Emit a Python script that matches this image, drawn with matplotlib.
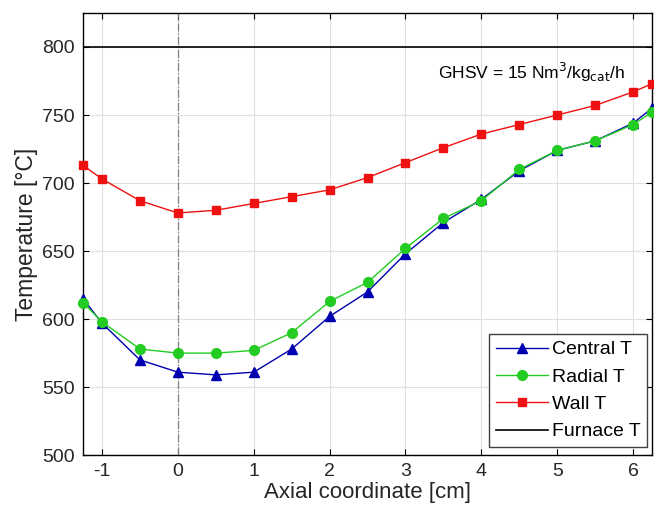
import matplotlib
matplotlib.use("Agg")
import matplotlib.pyplot as plt

plt.rcParams["font.family"] = ["Liberation Sans", "DejaVu Sans"]
plt.rcParams["axes.unicode_minus"] = False

# axial positions [cm]
x_cm = [-1.25, -1, -0.5, 0, 0.5, 1, 1.5, 2, 2.5, 3, 3.5, 4, 4.5, 5, 5.5, 6, 6.25]
central_t = [615, 597, 570, 561, 559, 561, 578, 602, 620, 648, 671, 688, 709, 724, 731, 744, 755]
radial_t = [612, 598, 578, 575, 575, 577, 590, 613, 627, 652, 674, 687, 710, 724, 731, 743, 752]
wall_t = [713, 703, 687, 678, 680, 685, 690, 695, 704, 715, 726, 736, 743, 750, 757, 767, 773]
furnace_t = 800

x_ticks = [-1, 0, 1, 2, 3, 4, 5, 6]
y_ticks = [500, 550, 600, 650, 700, 750, 800]

fig = plt.figure(figsize=(6.54, 5.19), dpi=100)
ax = fig.add_axes([0.127, 0.123, 0.870, 0.852])

ax.axvline(0, color="#808080", lw=0.9, ls="-.", zorder=1)
ax.plot(x_cm, central_t, color="#0000b0", marker="^", ms=7, lw=1.0,
        label="Central T", zorder=3, clip_on=False)
ax.plot(x_cm, radial_t, color="#22cc22", marker="o", ms=7, lw=1.0,
        label="Radial T", zorder=3, clip_on=False)
ax.plot(x_cm, wall_t, color="#ee1111", marker="s", ms=6, lw=1.0,
        label="Wall T", zorder=3, clip_on=False)
ax.axhline(furnace_t, color="black", lw=1.2, label="Furnace T", zorder=2)

ax.text(4.66, 781, r"GHSV = 15 Nm$^3$/kg$_{\mathrm{cat}}$/h", fontsize=12.5,
        ha="center", va="center")

ax.set_xlim(-1.25, 6.25)
ax.set_ylim(500, 825)
ax.set_xticks(x_ticks)
ax.set_yticks(y_ticks)
ax.tick_params(direction="in", top=True, right=True, labelsize=14, length=4, pad=6,
               labelcolor="#262626")
ax.grid(True, color="#e0e0e0", lw=0.8)
ax.set_axisbelow(True)
for s in ax.spines.values():
    s.set_linewidth(1.0)

ax.set_xlabel("Axial coordinate [cm]", fontsize=16, labelpad=1, color="#262626")
ax.set_ylabel("Temperature [\u00b0C]", fontsize=16.5, labelpad=3, color="#262626")

leg = ax.legend(loc="lower right", bbox_to_anchor=(0.992, 0.018), borderaxespad=0,
                fontsize=14, fancybox=False, framealpha=1, edgecolor="#404040",
                handlelength=2.7, labelspacing=0.5, handletextpad=0.2,
                borderpad=0.35)
leg.get_frame().set_linewidth(1.0)

fig.savefig("out.png", dpi=100)
